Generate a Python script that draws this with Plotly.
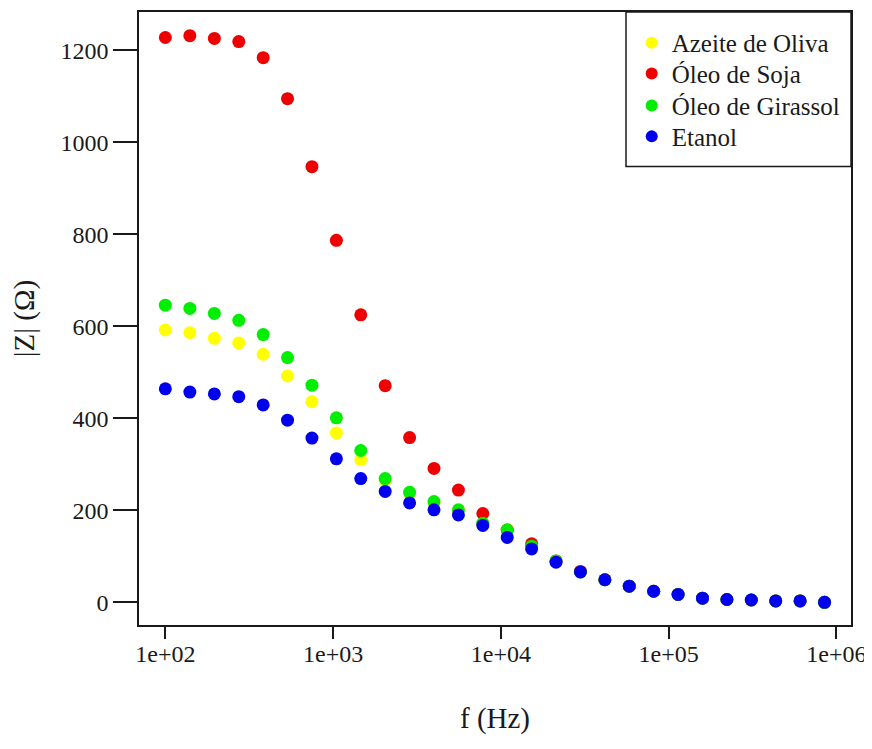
import plotly.graph_objects as go

# Frequencies (Hz)
freq = [100, 140, 196, 274, 383, 535, 748, 1046, 1462, 2044, 2857, 3994, 5584, 7806,
        10912, 15254, 21324, 29810, 41672, 58254, 81434, 113840, 159140, 222470,
        311000, 434760, 607760, 849600]

# |Z| values (Ohm)
azeite = [592, 586, 574, 564, 539, 492, 436, 368, 310, 265, 236, 217, 200, 170,
          157, 120, 89, 66, 49, 35, 24, 17, 9, 6, 5, 3, 3, 0]
soja = [1228, 1232, 1226, 1219, 1184, 1095, 947, 787, 625, 471, 358, 291, 244, 193,
        157, 127, 90, 67, 49, 35, 24, 17, 9, 6, 5, 3, 3, 0]
girassol = [646, 639, 628, 613, 582, 532, 472, 401, 330, 269, 239, 219, 201, 172,
            157, 122, 90, 66, 49, 35, 24, 17, 9, 6, 5, 3, 3, 0]
etanol = [464, 457, 453, 447, 429, 396, 357, 312, 269, 241, 216, 201, 190, 167,
          141, 116, 87, 66, 49, 35, 24, 17, 9, 6, 5, 3, 3, 0]

names = ["Azeite de Oliva", "Óleo de Soja", "Óleo de Girassol", "Etanol"]
series = [azeite, soja, girassol, etanol]
colors = ["#FFFF00", "#EE0000", "#00EE00", "#0000EE"]

x_tickvals = [1e2, 1e3, 1e4, 1e5, 1e6]
x_ticktext = ["1e+02", "1e+03", "1e+04", "1e+05", "1e+06"]
y_tickvals = [0, 200, 400, 600, 800, 1000, 1200]

font_family = "Liberation Serif"
ink = "#1a1a1a"

legend_ids = ["legend", "legend2", "legend3", "legend4"]
legend_y = [0.9495, 0.8991, 0.8471, 0.7967]

fig = go.Figure()
for name, vals, col, lid in zip(names, series, colors, legend_ids):
    fig.add_trace(go.Scatter(
        x=freq, y=vals, mode="markers", name=name, legend=lid,
        marker=dict(color=col, size=13, line=dict(width=0)),
    ))

legend_layout = {}
for lid, ly in zip(legend_ids, legend_y):
    legend_layout[lid] = dict(
        x=0.692, y=ly, xanchor="left", yanchor="middle",
        bgcolor="rgba(0,0,0,0)", borderwidth=0,
        font=dict(family=font_family, size=25, color=ink),
        itemsizing="constant",
    )

fig.update_layout(
    width=864, height=741,
    margin=dict(l=131, r=21, t=2, b=124),
    paper_bgcolor="white", plot_bgcolor="white",
    font=dict(family=font_family, size=24, color=ink),
    showlegend=True,
    shapes=[dict(type="rect", xref="paper", yref="paper",
                 x0=0.684, x1=1.0, y0=0.748, y1=1.0,
                 line=dict(color=ink, width=1.5), fillcolor="rgba(0,0,0,0)")],
    **legend_layout,
)
fig.update_xaxes(
    type="log", range=[1.843, 6.087],
    tickvals=x_tickvals, ticktext=x_ticktext,
    ticks="outside", ticklen=12, tickwidth=1.5, tickcolor=ink,
    ticklabelstandoff=-6,
    showline=True, mirror=True, linecolor=ink, linewidth=1.5,
    showgrid=False, zeroline=False,
    title=dict(text="f (Hz)", standoff=42),
)
fig.update_yaxes(
    range=[-49.4, 1283.4],
    tickvals=y_tickvals,
    ticks="outside", ticklen=24, tickwidth=1.5, tickcolor=ink,
    showline=True, mirror=True, linecolor=ink, linewidth=1.5,
    showgrid=False, zeroline=False,
    title=dict(text="|Z| (Ω)", standoff=18),
)

fig.write_html("out.html")
